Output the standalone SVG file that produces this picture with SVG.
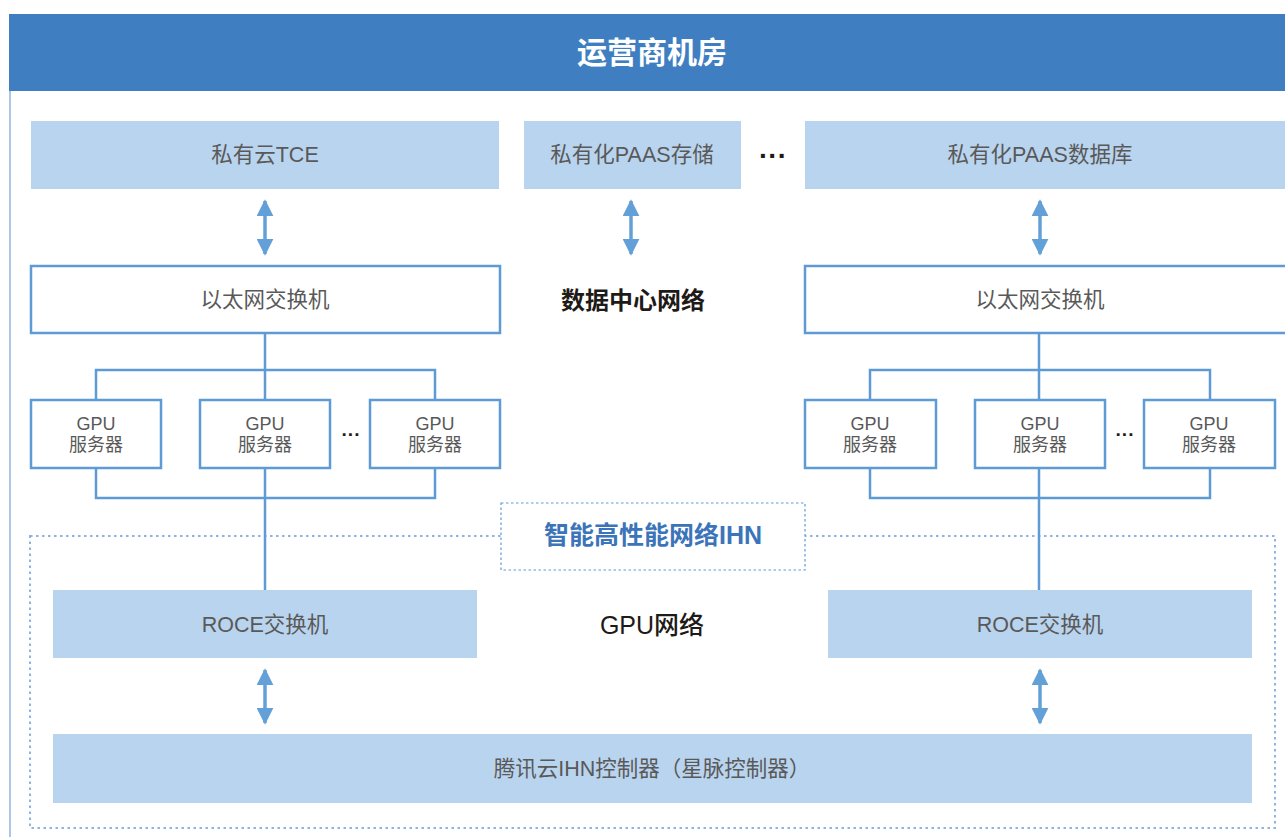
<svg xmlns="http://www.w3.org/2000/svg" width="1285" height="837" viewBox="0 0 1285 837">
<defs>
<style>
.fill{fill:#b9d4ee;}
.out{fill:#ffffff;stroke:#5e9bd5;stroke-width:2.5;}
.t{font-family:"Liberation Sans","Noto Sans CJK SC",sans-serif;font-size:21.5px;fill:#595959;text-anchor:middle;dominant-baseline:central;}
.g{font-family:"Liberation Sans","Noto Sans CJK SC",sans-serif;font-size:18px;fill:#595959;text-anchor:middle;}
.b{font-family:"Liberation Sans","Noto Sans CJK SC",sans-serif;font-size:24px;font-weight:bold;fill:#1e1a17;text-anchor:middle;dominant-baseline:central;}
.m{font-family:"Liberation Sans","Noto Sans CJK SC",sans-serif;font-size:25px;font-weight:500;fill:#1e1a17;text-anchor:middle;dominant-baseline:central;}
.ln{fill:none;stroke:#5e9bd5;stroke-width:2.5;}
.arr{stroke:#64a0d8;stroke-width:3.5;marker-start:url(#ah);marker-end:url(#ah);}
.dots{font-family:"Liberation Sans",sans-serif;font-weight:bold;fill:#1e1a17;text-anchor:middle;}
.dl{font-size:28px;}
.ds{font-size:19px;}
</style>
<marker id="ah" viewBox="0 0 10 10" refX="9" refY="5" markerWidth="17" markerHeight="17" markerUnits="userSpaceOnUse" orient="auto-start-reverse">
<path d="M0,0 L10,5 L0,10 z" fill="#64a0d8"/>
</marker>
</defs>
<rect width="1285" height="837" fill="#ffffff"/>
<g id="frame">
<line x1="10" y1="90" x2="10" y2="837" stroke="#8fb4e0" stroke-width="1.5"/>
<rect x="9" y="14" width="1276" height="77" fill="#3f7fc1"/>
<text x="652" y="52" font-family="'Liberation Sans','Noto Sans CJK SC',sans-serif" font-size="30" font-weight="bold" fill="#ffffff" text-anchor="middle" dominant-baseline="central">运营商机房</text>
</g>
<g id="ihn-region">
<rect x="30" y="536" width="1245" height="292" fill="none" stroke="#8fb4e0" stroke-width="2" stroke-dasharray="2.5,3.5"/>
<rect x="501" y="503" width="304" height="67" fill="#ffffff" stroke="#5e9bd5" stroke-width="1.2" stroke-dasharray="2.5,2.5"/>
<text x="653" y="535" font-family="'Liberation Sans','Noto Sans CJK SC',sans-serif" font-size="25" font-weight="bold" fill="#3c74ba" text-anchor="middle" dominant-baseline="central">智能高性能网络IHN</text>
</g>
<g id="connectors">
<line class="arr" x1="265" y1="201" x2="265" y2="254"/>
<line class="arr" x1="631" y1="201" x2="631" y2="254"/>
<line class="arr" x1="1040" y1="201" x2="1040" y2="254"/>
<line class="arr" x1="265" y1="670" x2="265" y2="723"/>
<line class="arr" x1="1040" y1="670" x2="1040" y2="723"/>
<path class="ln" d="M265,333 V400 M96,400 V370 H435 V400 M96,468 V498 H435 V468 M265,468 V590"/>
<path class="ln" d="M1039,333 V400 M870,400 V370 H1210 V400 M870,468 V498 H1210 V468 M1039,468 V590"/>
</g>
<g id="tce"><rect class="fill" x="31" y="121" width="468" height="68"/><text class="t" x="265" y="155">私有云TCE</text></g>
<g id="paas-storage"><rect class="fill" x="524" y="121" width="217" height="68"/><text class="t" x="632" y="155">私有化PAAS存储</text></g>
<text class="dots dl" x="773" y="165">···</text>
<g id="paas-db"><rect class="fill" x="805" y="121" width="480" height="68"/><text class="t" x="1040" y="155">私有化PAAS数据库</text></g>
<g id="eth-left"><rect class="out" x="31" y="266" width="469" height="67"/><text class="t" x="265" y="300">以太网交换机</text></g>
<g id="eth-right"><rect class="out" x="805" y="266" width="482" height="67"/><text class="t" x="1040" y="300">以太网交换机</text></g>
<text class="b" x="633" y="300">数据中心网络</text>
<g id="gpu-l1"><rect class="out" x="31" y="400" width="130" height="68"/><text class="g" x="96" y="430">GPU</text><text class="g" x="96" y="451">服务器</text></g>
<g id="gpu-l2"><rect class="out" x="200" y="400" width="130" height="68"/><text class="g" x="265" y="430">GPU</text><text class="g" x="265" y="451">服务器</text></g>
<g id="gpu-l3"><rect class="out" x="370" y="400" width="130" height="68"/><text class="g" x="435" y="430">GPU</text><text class="g" x="435" y="451">服务器</text></g>
<text class="dots ds" x="351" y="441">···</text>
<g id="gpu-r1"><rect class="out" x="805" y="400" width="131" height="68"/><text class="g" x="870" y="430">GPU</text><text class="g" x="870" y="451">服务器</text></g>
<g id="gpu-r2"><rect class="out" x="975" y="400" width="130" height="68"/><text class="g" x="1040" y="430">GPU</text><text class="g" x="1040" y="451">服务器</text></g>
<g id="gpu-r3"><rect class="out" x="1144" y="400" width="131" height="68"/><text class="g" x="1209" y="430">GPU</text><text class="g" x="1209" y="451">服务器</text></g>
<text class="dots ds" x="1125" y="441">···</text>
<g id="roce-left"><rect class="fill" x="53" y="590" width="424" height="68"/><text class="t" x="265" y="625">ROCE交换机</text></g>
<g id="roce-right"><rect class="fill" x="828" y="590" width="424" height="68"/><text class="t" x="1040" y="625">ROCE交换机</text></g>
<text class="m" x="652" y="625">GPU网络</text>
<g id="controller"><rect class="fill" x="53" y="734" width="1199" height="69"/><text class="t" x="652" y="769">腾讯云IHN控制器（星脉控制器）</text></g>
</svg>
